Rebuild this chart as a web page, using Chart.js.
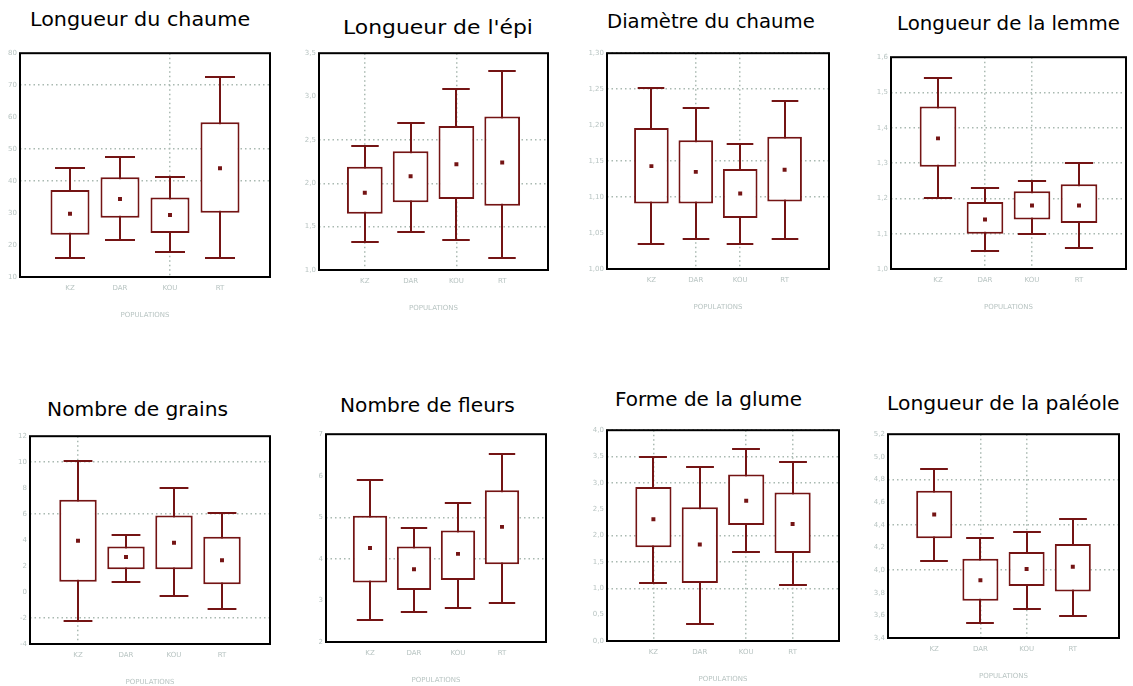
<!DOCTYPE html>
<html lang="fr">
<head>
<meta charset="utf-8">
<script src="https://cdn.jsdelivr.net/npm/chart.js@4.4.0/dist/chart.umd.min.js"></script>
<style>
  body { margin: 0; background: #fff; width: 1133px; height: 686px; overflow: hidden; position: relative; font-family: "DejaVu Sans", sans-serif; }
  .title { position: absolute; font-size: 19px; line-height: 20px; color: #000; white-space: nowrap; transform-origin: 0 0; }
  canvas { position: absolute; }
</style>
</head>
<body>
<script>
// Data (min, Q1, mean, Q3, max for KZ, DAR, KOU, RT)
const populations = ['KZ', 'DAR', 'KOU', 'RT'];

const chaumeMin  = [15.9, 21.5, 17.7, 15.9];
const chaumeQ1   = [23.2, 28.5, 23.8, 30.1];
const chaumeMean = [29.8, 34.4, 29.4, 44.0];
const chaumeQ3   = [37.2, 41.2, 34.9, 58.4];
const chaumeMax  = [44.2, 47.4, 41.2, 72.7];

const epiMin  = [1.32, 1.44, 1.35, 1.14];
const epiQ1   = [1.65, 1.78, 1.82, 1.74];
const epiMean = [1.89, 2.08, 2.22, 2.24];
const epiQ3   = [2.19, 2.37, 2.66, 2.77];
const epiMax  = [2.43, 2.69, 3.09, 3.30];

const diamMin  = [1.035, 1.042, 1.035, 1.042];
const diamQ1   = [1.091, 1.091, 1.071, 1.094];
const diamMean = [1.143, 1.135, 1.105, 1.138];
const diamQ3   = [1.196, 1.179, 1.139, 1.184];
const diamMax  = [1.251, 1.224, 1.174, 1.234];

const lemmeMin  = [1.20, 1.05, 1.10, 1.06];
const lemmeQ1   = [1.29, 1.10, 1.14, 1.13];
const lemmeMean = [1.37, 1.14, 1.18, 1.18];
const lemmeQ3   = [1.46, 1.19, 1.22, 1.24];
const lemmeMax  = [1.54, 1.23, 1.25, 1.30];

const grainsMin  = [-2.25, 0.8, -0.3, -1.3];
const grainsQ1   = [0.8, 1.75, 1.75, 0.6];
const grainsMean = [3.95, 2.7, 3.8, 2.45];
const grainsQ3   = [7.1, 3.5, 5.9, 4.25];
const grainsMax  = [10.1, 4.4, 8.05, 6.1];

const fleursMin  = [2.52, 2.71, 2.83, 2.95];
const fleursQ1   = [3.43, 3.25, 3.49, 3.87];
const fleursMean = [4.26, 3.75, 4.12, 4.77];
const fleursQ3   = [5.04, 4.30, 4.68, 5.65];
const fleursMax  = [5.90, 4.74, 5.35, 6.53];

const glumeMin  = [1.10, 0.33, 1.68, 1.06];
const glumeQ1   = [1.78, 1.10, 2.20, 1.67];
const glumeMean = [2.31, 1.83, 2.66, 2.22];
const glumeQ3   = [2.92, 2.54, 3.16, 2.82];
const glumeMax  = [3.50, 3.31, 3.64, 3.40];

const paleoleMin  = [4.08, 3.53, 3.66, 3.59];
const paleoleQ1   = [4.28, 3.73, 3.86, 3.81];
const paleoleMean = [4.49, 3.91, 4.01, 4.03];
const paleoleQ3   = [4.70, 4.10, 4.16, 4.23];
const paleoleMax  = [4.89, 4.28, 4.34, 4.45];

// Axis ranges / tick labels
const titles = ['Longueur du chaume', "Longueur de l'épi", 'Diamètre du chaume', 'Longueur de la lemme',
                'Nombre de grains', 'Nombre de fleurs', 'Forme de la glume', 'Longueur de la paléole'];
const yMins  = [10, 1.0, 1.00, 1.0, -4, 2, 0.0, 3.4];
const yMaxs  = [80, 3.5, 1.30, 1.6, 12, 7, 4.0, 5.2];
const ySteps = [10, 0.5, 0.05, 0.1, 2, 1, 0.5, 0.2];
const yDecimals = [0, 1, 2, 1, 0, 0, 1, 1];
const xTitle = 'POPULATIONS';

const series = [
  [chaumeMin, chaumeQ1, chaumeMean, chaumeQ3, chaumeMax],
  [epiMin, epiQ1, epiMean, epiQ3, epiMax],
  [diamMin, diamQ1, diamMean, diamQ3, diamMax],
  [lemmeMin, lemmeQ1, lemmeMean, lemmeQ3, lemmeMax],
  [grainsMin, grainsQ1, grainsMean, grainsQ3, grainsMax],
  [fleursMin, fleursQ1, fleursMean, fleursQ3, fleursMax],
  [glumeMin, glumeQ1, glumeMean, glumeQ3, glumeMax],
  [paleoleMin, paleoleQ1, paleoleMean, paleoleQ3, paleoleMax]
];

// Which dotted grid lines the original shows
const hGrid = [[70, 50, 40], [2.5, 2.0, 1.5], [1.30, 1.25, 1.15, 1.10], [1.5, 1.4, 1.3, 1.2, 1.1],
               [10, 6, -2], [5, 4], [4.0, 3.5, 3.0, 2.0, 1.5, 1.0], [4.8, 4.4, 4.0]];
const vGrid = [[3], [1, 3], [2, 3], [2, 3], [1], [], [1, 3, 4], [2, 3]];

// Layout (plot frame in page pixels) and title boxes
const frames = [
  { x: 20, y: 52, w: 255, h: 225 }, { x: 319, y: 52, w: 234, h: 218 },
  { x: 607, y: 52, w: 227, h: 217 }, { x: 891, y: 56, w: 240, h: 213 },
  { x: 30, y: 435, w: 245, h: 209 }, { x: 326, y: 433, w: 225, h: 209 },
  { x: 607, y: 429, w: 237, h: 212 }, { x: 888, y: 433, w: 236, h: 205 }
];
const titleBoxes = [
  { x: 30, w: 220, y: 9 }, { x: 343, w: 190, y: 17 }, { x: 607, w: 208, y: 11 }, { x: 897, w: 223, y: 13 },
  { x: 47, w: 181, y: 399 }, { x: 340, w: 175, y: 395 }, { x: 615, w: 187, y: 389 }, { x: 887, w: 233, y: 393 }
];

const RED = '#741414';
const GRID = '#a9b9b1';
const TICK = '#b8c4c2';

function pad(arr) { return [null, ...arr, null]; }

// Whiskers and caps, drawn under the boxes
const whiskerPlugin = {
  id: 'whiskers',
  beforeDatasetsDraw(chart, args, opts) {
    const { ctx, scales: { x, y } } = chart;
    const [mins, , , , maxs] = opts.stats;
    const slot = x.getPixelForValue(1) - x.getPixelForValue(0);
    const cap = slot * 0.3;
    ctx.save();
    ctx.strokeStyle = RED;
    ctx.lineWidth = 2;
    mins.forEach((lo, k) => {
      const px = Math.round(x.getPixelForValue(k + 1));
      const yLo = Math.round(y.getPixelForValue(lo));
      const yHi = Math.round(y.getPixelForValue(maxs[k]));
      ctx.beginPath();
      ctx.moveTo(px, yLo); ctx.lineTo(px, yHi);
      ctx.moveTo(px - cap, yLo); ctx.lineTo(px + cap, yLo);
      ctx.moveTo(px - cap, yHi); ctx.lineTo(px + cap, yHi);
      ctx.stroke();
    });
    ctx.restore();
  },
  afterDraw(chart) {
    const { ctx, chartArea: a } = chart;
    ctx.save();
    ctx.strokeStyle = '#000';
    ctx.lineWidth = 2;
    ctx.strokeRect(a.left, a.top, a.right - a.left, a.bottom - a.top);
    ctx.restore();
  }
};

function makePanel(i) {
  const f = frames[i];
  const padTop = 6, padRight = 2, yW = 20, xH = 48;
  const canvas = document.createElement('canvas');
  canvas.width = yW + f.w + padRight;
  canvas.height = padTop + f.h + xH;
  canvas.style.left = (f.x - yW) + 'px';
  canvas.style.top = (f.y - padTop) + 'px';
  document.body.appendChild(canvas);

  const [mins, q1, mean, q3, maxs] = series[i];
  const hg = hGrid[i], vg = vGrid[i];

  new Chart(canvas, {
    type: 'bar',
    data: {
      labels: ['', ...populations, ''],
      datasets: [
        {
          type: 'line', data: pad(mean), showLine: false,
          pointStyle: 'rect', pointRadius: 2.8, pointHoverRadius: 2.8,
          backgroundColor: RED, borderColor: RED, borderWidth: 0, order: 0
        },
        {
          data: pad(q1.map((v, k) => [v, q3[k]])),
          backgroundColor: '#fff', borderColor: RED, borderWidth: 2, borderSkipped: false,
          barPercentage: 0.78, categoryPercentage: 1, order: 1
        }
      ]
    },
    options: {
      responsive: false,
      animation: false,
      events: [],
      layout: { padding: { top: padTop, right: padRight, left: 0, bottom: 0 } },
      plugins: { legend: { display: false }, tooltip: { enabled: false }, whiskers: { stats: series[i] } },
      scales: {
        x: {
          offset: false,
          afterFit: s => { s.height = xH; },
          grid: {
            offset: false, drawTicks: false, lineWidth: 1.5,
            color: c => vg.includes(c.index) ? GRID : 'rgba(0,0,0,0)'
          },
          border: { display: false, dash: [1.5, 3] },
          ticks: { autoSkip: false, maxRotation: 0, padding: 7, color: TICK, font: { size: 7, family: 'DejaVu Sans' } },
          title: { display: true, text: xTitle, color: TICK, font: { size: 7, family: 'DejaVu Sans' }, padding: { top: 4, bottom: 6 } }
        },
        y: {
          min: yMins[i], max: yMaxs[i],
          afterFit: s => { s.width = yW; },
          grid: {
            drawTicks: false, lineWidth: 1.5,
            color: c => hg.some(g => Math.abs(g - c.tick.value) < 1e-6) ? GRID : 'rgba(0,0,0,0)'
          },
          border: { display: false, dash: [1.5, 3] },
          ticks: {
            stepSize: ySteps[i], padding: 3, color: TICK, font: { size: 7, family: 'DejaVu Sans' },
            callback: v => Number(v).toFixed(yDecimals[i]).replace('.', ',')
          }
        }
      }
    },
    plugins: [whiskerPlugin]
  });

  const tb = titleBoxes[i];
  const t = document.createElement('div');
  t.className = 'title';
  t.textContent = titles[i];
  t.style.left = tb.x + 'px';
  t.style.top = tb.y + 'px';
  document.body.appendChild(t);
  t.style.transform = 'scaleX(' + (tb.w / t.offsetWidth) + ')';
}

for (let i = 0; i < 8; i++) makePanel(i);
</script>
</body>
</html>
